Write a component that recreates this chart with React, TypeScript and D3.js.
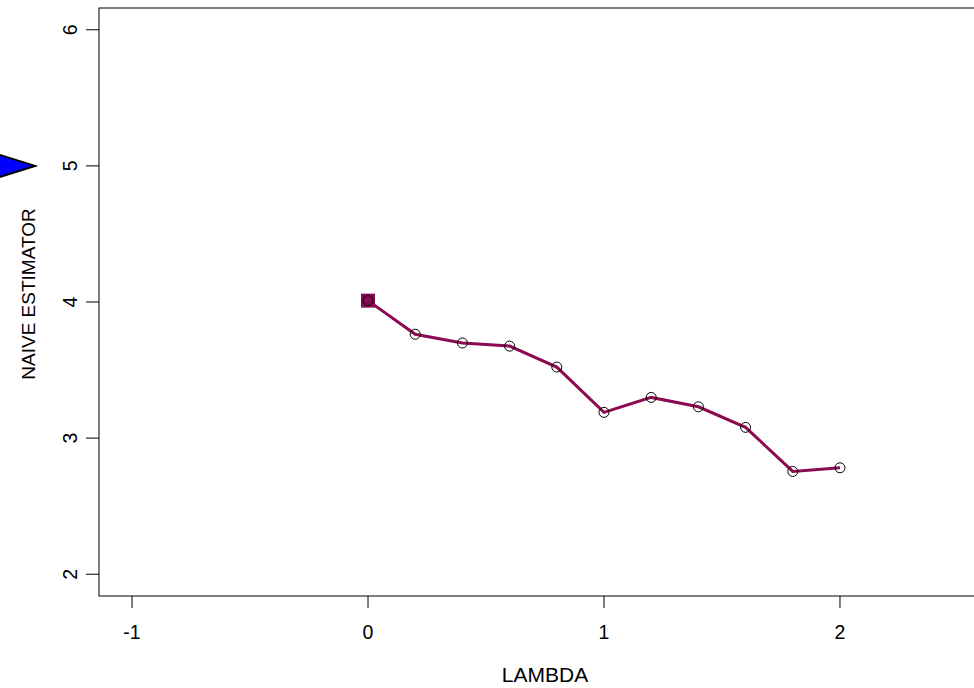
import React from "react";
import * as d3 from "d3";

const lambdas = [0, 0.2, 0.4, 0.6, 0.8, 1.0, 1.2, 1.4, 1.6, 1.8, 2.0];
const estimates = [4.01, 3.763, 3.699, 3.676, 3.522, 3.189, 3.299, 3.23, 3.079, 2.755, 2.782];
const xTicks = [-1, 0, 1, 2];
const yTicks = [2, 3, 4, 5, 6];
const xDomain = [-1.14, 2.64];
const yDomain = [1.84, 6.16];
const naivePoint = { x: 0, y: 4.01 };
const arrowMarker = { x: -1.411, y: 5 };
const xLabel = "LAMBDA";
const yLabel = "NAIVE ESTIMATOR";

const W = 974;
const H = 688;
const plot = { left: 99, right: 991, top: 8, bottom: 596 };
const LINE = "#8B0A50";
const FONT = "'Liberation Sans', Arial, Helvetica, sans-serif";

export default function App() {
  const x = d3.scaleLinear().domain(xDomain).range([plot.left, plot.right]);
  const y = d3.scaleLinear().domain(yDomain).range([plot.bottom, plot.top]);
  const pts = lambdas.map((l, i) => [l, estimates[i]] as [number, number]);
  const line = d3
    .line<[number, number]>()
    .x((d) => x(d[0]))
    .y((d) => y(d[1]));

  const ax = x(arrowMarker.x);
  const ay = y(arrowMarker.y);
  const tri = [
    [ax, ay],
    [ax - 80, ay - 25],
    [ax - 80, ay + 25],
  ]
    .map((p) => p.join(","))
    .join(" ");

  return (
    <svg
      width={W}
      height={H}
      style={{ position: "absolute", left: 0, top: 0, background: "#fff" }}
      fontFamily={FONT}
    >
      <rect x={0} y={0} width={W} height={H} fill="#fff" />
      <rect
        x={plot.left}
        y={plot.top}
        width={plot.right - plot.left}
        height={plot.bottom - plot.top}
        fill="none"
        stroke="#000"
        strokeWidth={1}
      />
      {xTicks.map((t) => (
        <g key={"xt" + t}>
          <line x1={x(t)} x2={x(t)} y1={plot.bottom} y2={plot.bottom + 12} stroke="#000" />
          <text x={x(t)} y={639} textAnchor="middle" fontSize={19.5} fill="#000">
            {t}
          </text>
        </g>
      ))}
      {yTicks.map((t) => (
        <g key={"yt" + t}>
          <line x1={plot.left - 13} x2={plot.left} y1={y(t)} y2={y(t)} stroke="#000" />
          <text
            transform={`translate(77,${y(t)}) rotate(-90)`}
            textAnchor="middle"
            fontSize={19.5}
            fill="#000"
          >
            {t}
          </text>
        </g>
      ))}
      <text x={545} y={682} textAnchor="middle" fontSize={21} fill="#000">
        {xLabel}
      </text>
      <text
        transform={`translate(35,294) rotate(-90)`}
        textAnchor="middle"
        fontSize={19}
        fill="#000"
      >
        {yLabel}
      </text>
      <polygon points={tri} fill="#0000FF" stroke="#000" strokeWidth={2} />
      <rect
        x={x(naivePoint.x) - 7}
        y={y(naivePoint.y) - 7}
        width={14}
        height={14}
        fill={LINE}
      />
      <path d={line(pts) || ""} fill="none" stroke={LINE} strokeWidth={3} />
      {pts.map((p, i) => (
        <circle
          key={"c" + i}
          cx={x(p[0])}
          cy={y(p[1])}
          r={5}
          fill="none"
          stroke="#000"
          strokeWidth={1}
        />
      ))}
    </svg>
  );
}
